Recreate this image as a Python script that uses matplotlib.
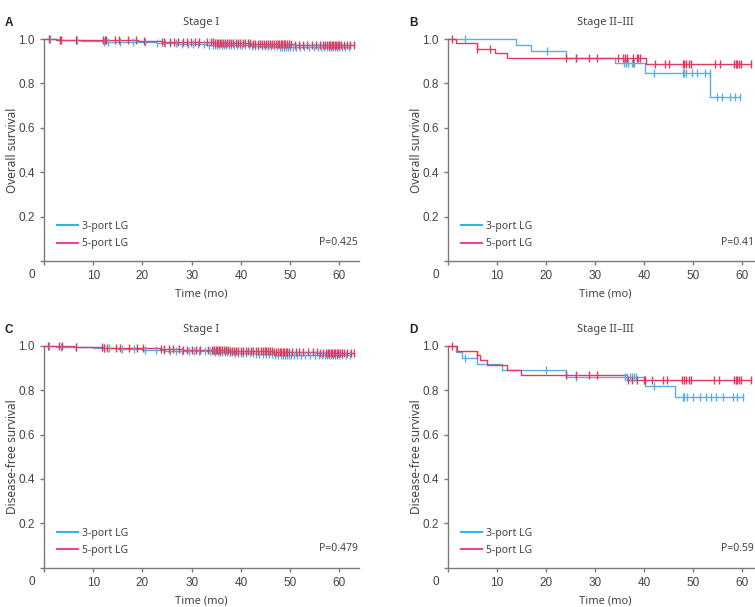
import numpy as np
import matplotlib
matplotlib.use("Agg")
import matplotlib.pyplot as plt
from matplotlib.lines import Line2D

# ---------------- data ----------------
series_labels = ["3-port LG", "5-port LG"]
x_ticks = [0, 10, 20, 30, 40, 50, 60]
y_ticks = [0, 0.2, 0.4, 0.6, 0.8, 1.0]
y_tick_labels = ["", "0.2", "0.4", "0.6", "0.8", "1.0"]

# Panel A: Stage I, overall survival
a3_event_t = [3.0, 7.5, 12.0, 17.0, 23.0, 27.0, 33.0, 36.0, 42.0, 47.5, 53.0]
a3_event_s = [0.996, 0.992, 0.988, 0.985, 0.981, 0.978, 0.974, 0.971, 0.968, 0.964, 0.962]
a3_cens = [1.2, 3.3, 6.8, 12.2, 13.0, 15.5, 18.0, 20.6, 23.0, 24.5, 25.5, 26.8, 28.0, 29.3,
           30.2, 31.2, 32.5, 33.6, 34.3, 34.7, 35.2, 35.6, 36.1, 36.5, 37.0, 37.5, 38.0, 38.6,
           39.2, 39.8, 40.3, 40.9, 41.6, 42.2, 42.8, 43.5, 44.2, 44.9, 45.6, 46.2, 46.8, 47.4,
           48.0, 48.4, 48.8, 49.2, 49.6, 50.0, 50.5, 51.2, 52.0, 52.8, 53.8, 54.8, 55.6, 56.3,
           56.9, 57.4, 57.9, 58.3, 58.7, 59.1, 59.5, 59.9, 60.5, 61.2, 62.0]
a5_event_t = [2.5, 11.5, 19.0, 24.0, 28.5, 34.5, 37.0, 42.0, 47.0, 51.0, 55.0]
a5_event_s = [0.997, 0.994, 0.991, 0.988, 0.986, 0.983, 0.981, 0.979, 0.977, 0.975, 0.973]
a5_cens = [1.0, 3.2, 3.5, 6.5, 12.0, 12.3, 12.6, 14.4, 15.3, 17.0, 18.7, 20.4, 24.0, 24.3,
           25.6, 26.4, 27.3, 28.2, 29.0, 29.8, 30.7, 31.5, 33.2, 34.0, 34.4, 34.8, 35.1, 35.4,
           35.7, 36.0, 36.4, 36.8, 37.2, 37.6, 38.0, 38.5, 39.0, 39.4, 39.9, 40.4, 40.9, 41.4,
           41.9, 42.4, 42.9, 43.4, 43.9, 44.3, 44.7, 45.1, 45.5, 45.9, 46.3, 46.7, 47.1, 47.5,
           47.8, 48.1, 48.4, 48.7, 49.0, 49.3, 49.7, 50.2, 51.0, 51.8, 52.6, 53.5, 54.5, 55.3,
           56.0, 56.6, 57.1, 57.5, 57.9, 58.2, 58.5, 58.8, 59.1, 59.4, 59.7, 60.0, 60.4, 60.9,
           61.5, 62.2, 62.9]

# Panel B: Stage II-III, overall survival
b3_event_t = [13.9, 16.9, 24.0, 34.0, 40.2, 53.5]
b3_event_s = [0.973, 0.946, 0.916, 0.890, 0.845, 0.740]
b3_cens = [3.5, 20.1, 26.0, 35.8, 36.2, 36.7, 37.5, 37.8, 38.0, 42.0, 47.9, 48.2, 48.5,
           49.7, 50.7, 52.4, 53.3, 54.8, 55.8, 57.5, 58.5, 59.5]
b5_event_t = [1.6, 5.9, 9.6, 12.1, 40.3]
b5_event_s = [0.980, 0.956, 0.938, 0.916, 0.889]
b5_cens = [0.75, 6.0, 8.6, 24.0, 26.0, 28.7, 30.3, 34.7, 35.7, 36.1, 36.4, 37.8, 38.5, 38.8,
           39.2, 42.1, 44.2, 45.1, 47.8, 48.2, 48.6, 49.1, 49.6, 54.5, 55.5, 58.3, 58.6, 59.0,
           59.3, 59.7, 61.7]

# Panel C: Stage I, disease-free survival
c3_event_t = [2.5, 5.5, 10.0, 15.0, 20.0, 24.5, 30.0, 34.5, 38.5, 43.0, 47.0, 51.5]
c3_event_s = [0.996, 0.992, 0.988, 0.984, 0.981, 0.977, 0.974, 0.970, 0.967, 0.963, 0.960, 0.958]
c3_cens = [1.0, 3.4, 6.6, 12.1, 13.2, 15.8, 18.2, 20.5, 22.8, 24.4, 25.7, 26.9, 28.1, 29.4,
           30.4, 31.4, 32.7, 33.7, 34.3, 34.8, 35.3, 35.8, 36.2, 36.7, 37.2, 37.7, 38.2, 38.8,
           39.4, 40.0, 40.5, 41.1, 41.8, 42.4, 43.0, 43.7, 44.4, 45.1, 45.8, 46.4, 47.0, 47.6,
           48.1, 48.5, 48.9, 49.3, 49.7, 50.1, 50.7, 51.4, 52.2, 53.0, 54.0, 55.0, 55.8, 56.4,
           57.0, 57.5, 58.0, 58.4, 58.8, 59.2, 59.6, 60.0, 60.6, 61.3, 62.1]
c5_event_t = [2.0, 6.0, 12.0, 18.0, 23.5, 28.0, 34.0, 37.5, 42.0, 46.5, 51.0, 55.5]
c5_event_s = [0.997, 0.994, 0.991, 0.988, 0.985, 0.982, 0.979, 0.977, 0.975, 0.972, 0.970, 0.968]
c5_cens = [0.8, 3.0, 3.6, 6.4, 11.8, 12.2, 12.7, 14.6, 15.4, 17.2, 18.9, 20.2, 23.8, 24.4,
           25.4, 26.3, 27.4, 28.3, 29.1, 30.0, 30.8, 31.6, 33.3, 34.1, 34.5, 34.9, 35.2, 35.5,
           35.8, 36.1, 36.5, 36.9, 37.3, 37.7, 38.1, 38.6, 39.1, 39.5, 40.0, 40.5, 41.0, 41.5,
           42.0, 42.5, 43.0, 43.5, 44.0, 44.4, 44.8, 45.2, 45.6, 46.0, 46.4, 46.8, 47.2, 47.6,
           47.9, 48.2, 48.5, 48.8, 49.1, 49.4, 49.8, 50.3, 51.1, 51.9, 52.7, 53.6, 54.6, 55.4,
           56.1, 56.7, 57.2, 57.6, 58.0, 58.3, 58.6, 58.9, 59.2, 59.5, 59.8, 60.1, 60.5, 61.0,
           61.6, 62.3, 63.0]

# Panel D: Stage II-III, disease-free survival
d3_event_t = [1.6, 2.8, 5.9, 11.0, 24.0, 40.2, 46.3]
d3_event_s = [0.972, 0.945, 0.918, 0.889, 0.859, 0.820, 0.771]
d3_cens = [3.5, 20.0, 26.0, 36.0, 36.5, 37.0, 37.5, 38.0, 38.4, 42.0, 47.8, 48.2, 48.8,
           49.9, 51.3, 52.6, 53.6, 54.6, 56.0, 58.0, 59.0, 60.1]
d5_event_t = [1.9, 6.0, 6.6, 7.9, 12.1, 14.9, 36.5]
d5_event_s = [0.978, 0.957, 0.937, 0.915, 0.892, 0.870, 0.845]
d5_cens = [0.75, 6.0, 24.0, 26.0, 28.7, 30.3, 36.6, 37.6, 38.6, 39.9, 40.2, 41.6, 43.9, 44.6,
           47.7, 48.2, 48.6, 49.1, 49.6, 54.2, 55.2, 58.3, 58.6, 59.0, 59.3, 59.7, 61.7]

panels = [
    dict(letter="A", title="Stage I", ylabel="Overall survival", p="P=0.425",
         s3=(a3_event_t, a3_event_s, a3_cens), s5=(a5_event_t, a5_event_s, a5_cens)),
    dict(letter="B", title="Stage II\u2013III", ylabel="Overall survival", p="P=0.41",
         s3=(b3_event_t, b3_event_s, b3_cens), s5=(b5_event_t, b5_event_s, b5_cens)),
    dict(letter="C", title="Stage I", ylabel="Disease-free survival", p="P=0.479",
         s3=(c3_event_t, c3_event_s, c3_cens), s5=(c5_event_t, c5_event_s, c5_cens)),
    dict(letter="D", title="Stage II\u2013III", ylabel="Disease-free survival", p="P=0.59",
         s3=(d3_event_t, d3_event_s, d3_cens), s5=(d5_event_t, d5_event_s, d5_cens)),
]

# ---------------- style ----------------
W, H = 755, 607
fig = plt.figure(figsize=(W / 100, H / 100), dpi=100)
fig.patch.set_facecolor("white")

TXT_FONT = ["Noto Sans", "DejaVu Sans"]
TICK_FONT = ["Liberation Sans", "DejaVu Sans"]
AXIS_COL = "#7a7a7a"
TXT_COL = "#444444"
C3_LINE = "#5aaee0"
C5_LINE = "#e6385c"
C3_LEG = "#2bb5e8"
C5_LEG = "#e8479a"

# axes layout in pixels: (left, bottom_y, width, height)
layout = [(44, 261, 315, 222), (448, 261, 314, 222),
          (44, 567.7, 315, 222), (448, 567.7, 314, 222)]


def km_curve(ax, ev_t, ev_s, cens, color):
    t = np.concatenate([[0.0], ev_t, [max(cens)]])
    s = np.concatenate([[1.0], ev_s, [ev_s[-1]]])
    ax.step(t, s, where="post", color=color, lw=1.0, clip_on=False, zorder=3)
    cens = np.asarray(cens)
    idx = np.searchsorted(t[:-1], cens, side="right") - 1
    ax.plot(cens, s[idx], ls="none", marker="|", ms=5.5, mew=1.0, color=color,
            clip_on=False, zorder=4)


for pan, (lx, by, w, h) in zip(panels, layout):
    ax = fig.add_axes([lx / W, 1 - by / H, w / W, h / H])
    km_curve(ax, *pan["s3"], C3_LINE)
    km_curve(ax, *pan["s5"], C5_LINE)
    ax.set_xlim(0, 64)
    ax.set_ylim(0, 1.0)
    for sp in ("top", "right"):
        ax.spines[sp].set_visible(False)
    for sp in ("left", "bottom"):
        ax.spines[sp].set_color(AXIS_COL)
        ax.spines[sp].set_linewidth(1.0)
    ax.set_xticks(x_ticks)
    ax.set_xticklabels([""] + [str(v) for v in x_ticks[1:]])
    ax.set_yticks(y_ticks)
    ax.set_yticklabels(y_tick_labels)
    ax.tick_params(length=3, width=1, color=AXIS_COL, labelcolor=TXT_COL,
                   labelsize=8.5, pad=3.5)
    for lab in ax.get_xticklabels() + ax.get_yticklabels():
        lab.set_fontfamily(TICK_FONT)

    handles = [Line2D([], [], color=C3_LEG, lw=1.5), Line2D([], [], color=C5_LEG, lw=1.5)]
    leg = ax.legend(handles, series_labels, loc="upper left",
                    bbox_to_anchor=(13 / w, 0.181), frameon=False, borderpad=0,
                    borderaxespad=0, handlelength=2.0, handletextpad=0.4,
                    labelspacing=0.62, prop={"family": TXT_FONT, "size": 7.5})
    for t in leg.get_texts():
        t.set_color(TXT_COL)

    cx = lx + 157
    fig.text(cx / W, 1 - (by - 238) / H, pan["title"], ha="center", va="center",
             fontsize=8, color=TXT_COL, family=TXT_FONT)
    fig.text((lx - 35) / W, 1 - (by - 238) / H, pan["letter"], ha="center", va="center",
             fontsize=8.5, fontweight="bold", color="#222222", family=TICK_FONT)
    fig.text((lx - 31) / W, 1 - (by - 111) / H, pan["ylabel"], ha="center", va="center",
             rotation=90, fontsize=8.5, color=TXT_COL, family=TXT_FONT)
    fig.text(cx / W, 1 - (by + 33.5) / H, "Time (mo)", ha="center", va="center",
             fontsize=8, color=TXT_COL, family=TXT_FONT)
    fig.text((lx - 12) / W, 1 - (by + 14) / H, "0", ha="center", va="center",
             fontsize=8.5, color=TXT_COL, family=TICK_FONT)
    p_right = min(lx + 314, W - 1)
    fig.text(p_right / W, 1 - (by - 19) / H, pan["p"], ha="right", va="center",
             fontsize=7.5, color=TXT_COL, family=TXT_FONT)

fig.savefig("out.png", dpi=100, facecolor="white")
